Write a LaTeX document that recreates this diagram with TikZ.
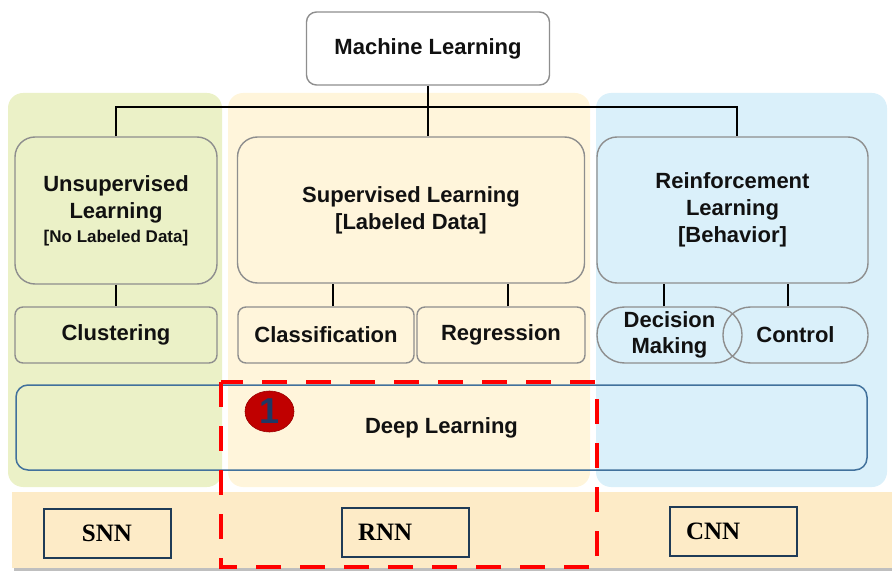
\documentclass[tikz,border=0pt]{standalone}
\usepackage{fontspec}
\setmainfont{Liberation Sans}
\newfontfamily\timesfam{Liberation Serif}
\newfontfamily\badgefam{Liberation Sans}
\usetikzlibrary{shapes.geometric}

\definecolor{pgreen}{HTML}{EBF1C7}
\definecolor{pyellow}{HTML}{FFF5DB}
\definecolor{pblue}{HTML}{DAF0FA}
\definecolor{bandfill}{HTML}{FDEBC7}
\definecolor{boxgray}{HTML}{8E8E8E}
\definecolor{dlblue}{HTML}{41719C}
\definecolor{netnavy}{HTML}{1F3B57}
\definecolor{badgered}{HTML}{C00000}
\definecolor{badgeblue}{HTML}{1F3864}
\definecolor{ink}{HTML}{111111}

\newcommand\mainlbl{\bfseries\fontsize{22}{27}\selectfont}
\newcommand\smalllbl{\bfseries\fontsize{17}{22}\selectfont}
\newcommand\netlbl{\timesfam\bfseries\fontsize{25}{30}\selectfont}
\newcommand\badgelbl{\badgefam\bfseries\fontsize{36}{36}\selectfont}

\begin{document}
\begin{tikzpicture}[x=1pt,y=-1pt,
  catbox/.style={draw=boxgray, line width=1.4, rounded corners=20, align=center,
    font=\mainlbl, text=ink, inner sep=0},
  subbox/.style={draw=boxgray, line width=1.4, rounded corners=8, align=center,
    font=\mainlbl, text=ink, inner sep=0, minimum height=56},
  pill/.style={draw=boxgray, line width=1.4, rounded corners=27.5, align=center,
    font=\mainlbl, text=ink, inner sep=0, minimum width=145, minimum height=56},
  netbox/.style={draw=netnavy, line width=2, minimum width=127, minimum height=49,
    font=\netlbl, text=black, inner sep=0},
  link/.style={line width=2.5, black},
  hilite/.style={draw=red, line width=4, dash pattern=on 25 off 19}
]
\useasboundingbox (0,0) rectangle (892,572);

% coloured category panels
\fill[pgreen, rounded corners=15] (8,93) rectangle (222,487);
\fill[pyellow, rounded corners=15] (228,93) rectangle (590,487);
\fill[pblue, rounded corners=15] (596,93) rectangle (887,487);

% network band with its shadow
\fill[gray!50] (14,495) rectangle (892,570.5);
\fill[bandfill] (12,492) rectangle (892,568);

% root
\node[catbox, rounded corners=10, fill=white, minimum width=243, minimum height=73]
  (ml) at (428,48.5) {Machine Learning};

% learning paradigms
\node[catbox, fill=pgreen, minimum width=202, minimum height=147] (uns) at (116,210.5)
  {\rule{0pt}{4pt}Unsupervised\\Learning\\[-3pt]{\smalllbl [No Labeled Data]}};
\node[catbox, fill=pyellow, minimum width=347, minimum height=146] (sup) at (411,210)
  {Supervised Learning\\{[Labeled Data]}};
\node[catbox, fill=pblue, minimum width=271, minimum height=146] (rei) at (732.5,210)
  {Reinforcement\\Learning\\{[Behavior]}};

% tasks
\node[subbox, fill=pgreen, minimum width=202] (clu) at (116,335) {Clustering};
\node[subbox, fill=pyellow, minimum width=176] (cla) at (326,335) {Classification};
\node[subbox, fill=pyellow, minimum width=168] (reg) at (501,335) {Regression};
\node[pill] (dec) at (669.5,335) {Decision\\[-1pt]Making};
\node[pill] (con) at (795.5,335) {Control};

% tree connectors
\coordinate (j) at (428,107);
\draw[link] (ml.south) -- (j);
\draw[link] (uns.north) |- (j);
\draw[link] (j) -| ([xshift=4.5]rei.north);
\draw[link] (j) -- (j |- sup.north);
\draw[link] (uns.south) -- (clu.north);
\draw[link] ([xshift=7]cla.north) -- ([xshift=7]cla.north |- sup.south);
\draw[link] ([xshift=7]reg.north) -- ([xshift=7]reg.north |- sup.south);
\draw[link] ([xshift=-5.5]dec.north) -- ([xshift=-5.5]dec.north |- rei.south);
\draw[link] ([xshift=-7.5]con.north) -- ([xshift=-7.5]con.north |- rei.south);

% deep learning strip
\node[draw=dlblue, line width=1.5, rounded corners=12, minimum width=851, minimum height=85,
  font=\mainlbl, text=ink] (dl) at (441.5,427.5) {Deep Learning};
\node[ellipse, fill=badgered, draw=badgered!80!black, line width=0.6,
  minimum width=49, minimum height=41, inner sep=0,
  font=\badgelbl, text=badgeblue] (one) at (269.5,411.5) {1};

% network families
\node[netbox] (snn) at (107,533) {SNN};
\node[netbox, text width=94, align=left, inner xsep=16] (rnn) at (405,532.5) {RNN};
\node[netbox, text width=95, align=left, inner xsep=16] (cnn) at (733.5,531) {CNN};

% highlighted region
\draw[hilite] (221,382) rectangle (597,567);
\end{tikzpicture}
\end{document}
